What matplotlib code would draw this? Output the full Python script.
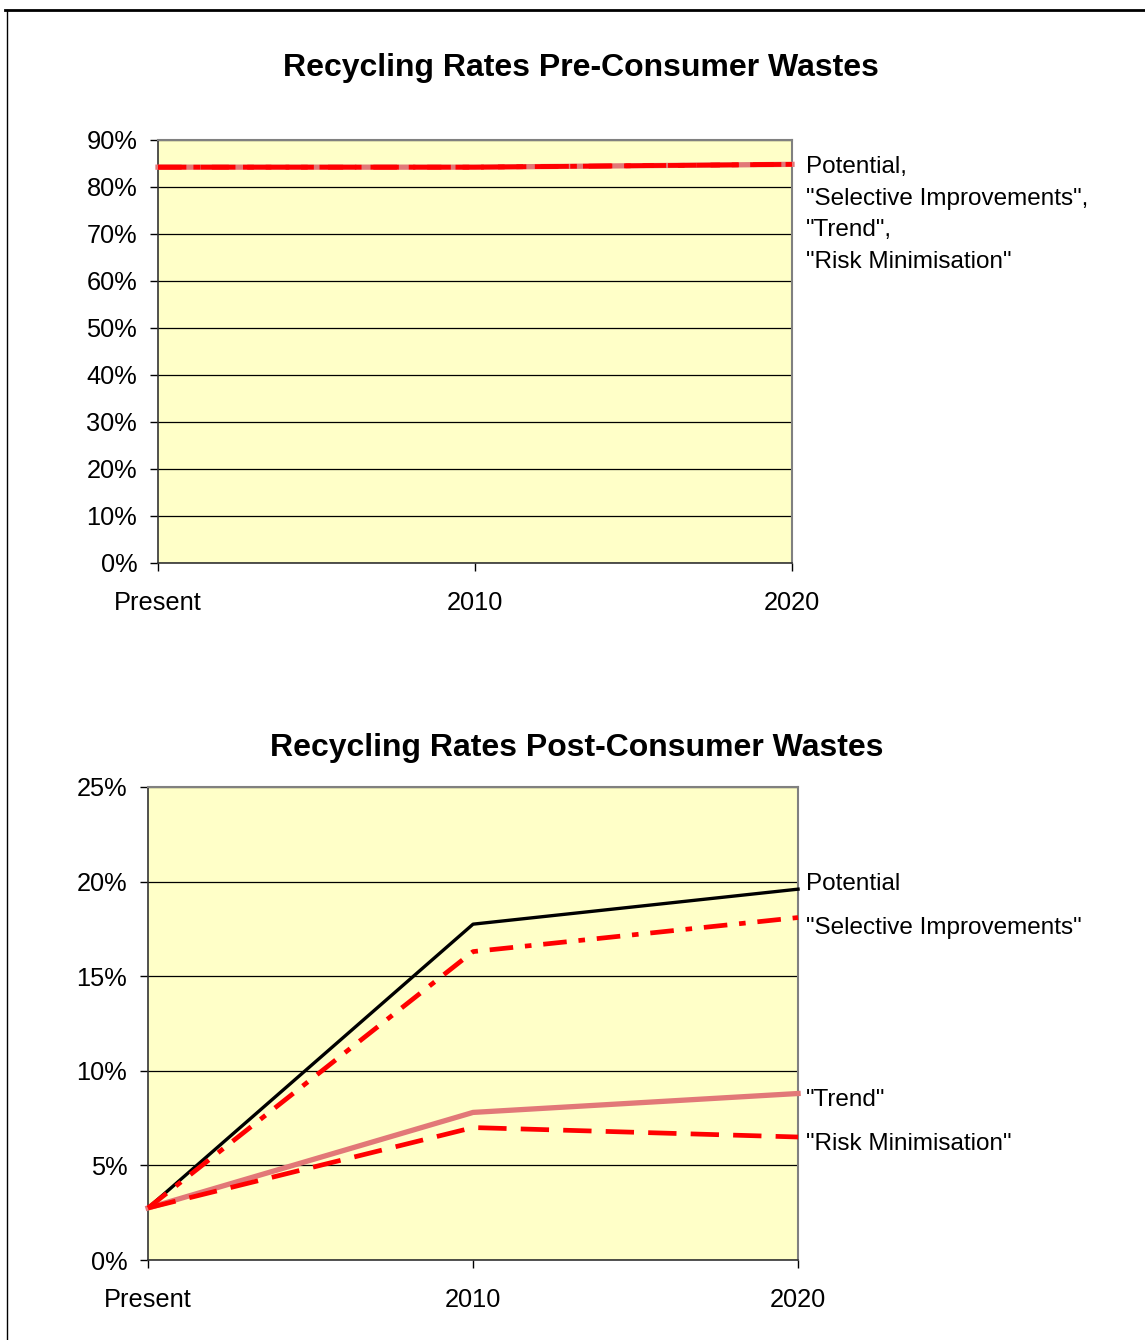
import matplotlib
matplotlib.use("Agg")
import matplotlib.pyplot as plt
from matplotlib.lines import Line2D
from matplotlib.ticker import FixedLocator, PercentFormatter

plt.rcParams['font.family'] = ['Liberation Sans', 'DejaVu Sans']

categories = ["Present", "2010", "2020"]
series_names = ["Potential", '"Selective Improvements"', '"Trend"', '"Risk Minimisation"']

# Pre-consumer recycling rates (%)
pre_potential = [84.2, 84.2, 84.8]
pre_selective = [84.2, 84.2, 84.8]
pre_trend = [84.2, 84.2, 84.8]
pre_risk = [84.2, 84.2, 84.8]

# Post-consumer recycling rates (%)
post_potential = [2.75, 17.75, 19.6]
post_selective = [2.75, 16.3, 18.1]
post_trend = [2.75, 7.8, 8.8]
post_risk = [2.75, 7.0, 6.5]

pre_ticks = [0, 10, 20, 30, 40, 50, 60, 70, 80, 90]
post_ticks = [0, 5, 10, 15, 20, 25]

PLOT_BG = "#FFFFC8"
TICK_FS = 18.3
LABEL_FS = 17.5
TITLE_FS = 23
styles = {
    "Potential": dict(color="black", lw=2.4, ls="-"),
    "Selective": dict(color="#FF0000", lw=3.4, ls=(0, (5, 2.5, 1.4, 2.5))),
    "Trend": dict(color="#E27878", lw=3.8, ls="-"),
    "Risk": dict(color="#FF0000", lw=3.4, ls=(0, (6, 3))),
}

fig = plt.figure(figsize=(11.45, 13.4), dpi=100)


def style_axes(ax, ymax, ticks):
    x = range(len(categories))
    ax.set_facecolor(PLOT_BG)
    ax.set_xlim(0, len(categories) - 1)
    ax.set_ylim(0, ymax)
    ax.yaxis.set_major_locator(FixedLocator(ticks))
    ax.yaxis.set_major_formatter(PercentFormatter(decimals=0))
    ax.set_xticks(list(x))
    ax.set_xticklabels(categories)
    ax.grid(axis="y", color="black", lw=0.9)
    ax.set_axisbelow(True)
    for side in ("top", "right"):
        ax.spines[side].set_color("#808080")
        ax.spines[side].set_linewidth(1.5)
    for side in ("left", "bottom"):
        ax.spines[side].set_color("#333333")
        ax.spines[side].set_linewidth(1.2)
    ax.tick_params(axis="y", direction="out", length=5.5, width=1, labelsize=TICK_FS, pad=9.5)
    ax.tick_params(axis="x", direction="out", length=5.5, width=1, labelsize=TICK_FS, pad=14.5)


def draw(ax, pot, sel, tr, rk):
    x = range(len(categories))
    ax.plot(x, pot, **styles["Potential"], clip_on=False, zorder=3)
    ax.plot(x, tr, **styles["Trend"], clip_on=False, zorder=3)
    ax.plot(x, rk, **styles["Risk"], clip_on=False, zorder=4)
    ax.plot(x, sel, **styles["Selective"], clip_on=False, zorder=5)


# Pre-consumer chart
ax1 = fig.add_axes([0.138, 0.5799, 0.5537, 0.3157])
style_axes(ax1, 90, pre_ticks)
draw(ax1, pre_potential, pre_selective, pre_trend, pre_risk)
fig.text(581 / 1145, 1 - 68 / 1340, "Recycling Rates Pre-Consumer Wastes", ha="center", va="center",
         fontsize=TITLE_FS, fontweight="bold")
pre_label = "Potential,\n" + ",\n".join(series_names[1:])
fig.text(806 / 1145, 1 - 156 / 1340, pre_label, ha="left", va="top",
         fontsize=LABEL_FS, linespacing=1.57)

# Post-consumer chart
ax2 = fig.add_axes([0.1293, 0.0597, 0.5677, 0.353])
style_axes(ax2, 25, post_ticks)
draw(ax2, post_potential, post_selective, post_trend, post_risk)
fig.text(577 / 1145, 1 - 748 / 1340, "Recycling Rates Post-Consumer Wastes", ha="center", va="center",
         fontsize=TITLE_FS, fontweight="bold")
post_label_y = [884, 928, 1100, 1144]
for name, ypx in zip(series_names, post_label_y):
    fig.text(806 / 1145, 1 - ypx / 1340, name, ha="left", va="center", fontsize=LABEL_FS)

# Page frame
fig.add_artist(Line2D([5 / 1145, 1.0], [1 - 10 / 1340, 1 - 10 / 1340],
                      transform=fig.transFigure, color="black", lw=2))
fig.add_artist(Line2D([7 / 1145, 7 / 1145], [0, 1 - 10 / 1340],
                      transform=fig.transFigure, color="black", lw=1))

fig.savefig("out.png", dpi=100, facecolor="white")
